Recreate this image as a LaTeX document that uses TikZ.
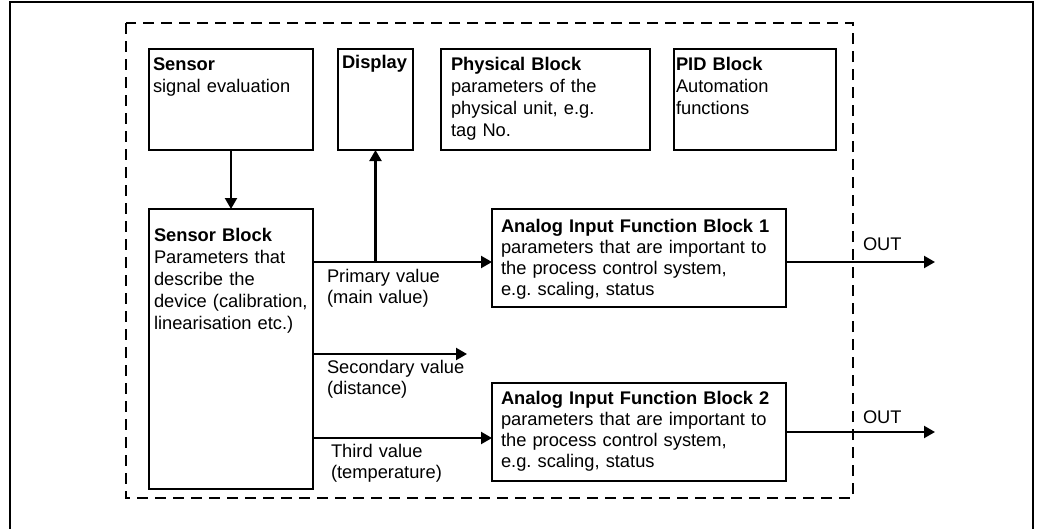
\documentclass[tikz,border=0pt]{standalone}
\usepackage{fontspec}
\setmainfont{Liberation Sans}
\usetikzlibrary{arrows.meta}
\frenchspacing
\begin{document}
\begin{tikzpicture}[x=1pt,y=-1pt,
  every node/.style={inner sep=0pt,outer sep=0pt},
  blk/.style={draw,line width=2.2pt,anchor=north west,minimum width=#1},
  txt/.style={anchor=base west,align=left,text width=300pt,font=\fontsize{18.3}{22}\selectfont},
  txtb/.style={anchor=base west,align=left,text width=300pt,font=\fontsize{18.3}{21.3}\selectfont},
  lbl/.style={anchor=base west,align=left,text width=160pt,font=\fontsize{18.3}{21.5}\selectfont},
  arr/.style={line width=2.2pt,-{Triangle[length=11pt,width=12pt]}}]
\useasboundingbox (0,0) rectangle (1037,528);
% outer frame
\draw[line width=2.2pt] (10,530) -- (10,2) -- (1033,2) -- (1033,530);
% dashed device boundary
\draw[line width=2.2pt,dash pattern=on 11pt off 7pt] (126,23) rectangle (853,498);
% boxes
\node[blk=164pt,minimum height=101pt] (sensor) at (149,49) {};
\node[blk=75pt,minimum height=101pt] (display) at (338,49) {};
\node[blk=209pt,minimum height=101pt] (phys) at (441,49) {};
\node[blk=162pt,minimum height=101pt] (pid) at (674,49) {};
\node[blk=164pt,minimum height=280pt] (sblock) at (149,209) {};
\node[blk=294pt,minimum height=98pt] (aifb1) at (492,209) {};
\node[blk=294pt,minimum height=98pt] (aifb2) at (492,383) {};
% box texts
\node[txt] (tsensor) at (153,70) {\textbf{Sensor}\\signal evaluation};
\node[txt] (tdisplay) at (342,68) {\textbf{Display}};
\node[txt] (tphys) at (451,70) {\textbf{Physical Block}\\parameters of the\\physical unit, e.g.\\tag No.};
\node[txt] (tpid) at (676,70) {\textbf{PID Block}\\Automation\\functions};
\node[txt] (tsblock) at (154,241) {\textbf{Sensor Block}\\Parameters that\\describe the\\device (calibration,\\linearisation etc.)};
\node[txtb] (taifb1) at (501,232) {\textbf{Analog Input Function Block 1}\\parameters that are important to\\the process control system,\\e.g. scaling, status};
\node[txtb] (taifb2) at (501,404) {\textbf{Analog Input Function Block 2}\\parameters that are important to\\the process control system,\\e.g. scaling, status};
% connectors
\draw[arr] (sensor) -- (sblock);
\coordinate (p1) at (sblock.east |- 0,262);
\coordinate (p2) at (sblock.east |- 0,354);
\coordinate (p2end) at (467,354);
\coordinate (p3) at (sblock.east |- 0,438);
\coordinate (o1) at (935,262);
\coordinate (o2) at (935,432);
\draw[arr] (p1) -- (aifb1.west |- p1);
\draw[arr] (display.south |- p1) -- (display.south);
\draw[arr] (p2) -- (p2end);
\draw[arr] (p3) -- (aifb2.west |- p3);
\draw[arr] (aifb1.east |- o1) -- (o1);
\draw[arr] (aifb2.east |- o2) -- (o2);
% labels
\node[lbl] (lp) at (327,282) {Primary value\\(main value)};
\node[lbl] (ls) at (327,373) {Secondary value\\(distance)};
\node[lbl] (lt) at (331,457) {Third value\\(temperature)};
\node[lbl] (lo1) at (863,250) {OUT};
\node[lbl] (lo2) at (863,423) {OUT};
\end{tikzpicture}
\end{document}
